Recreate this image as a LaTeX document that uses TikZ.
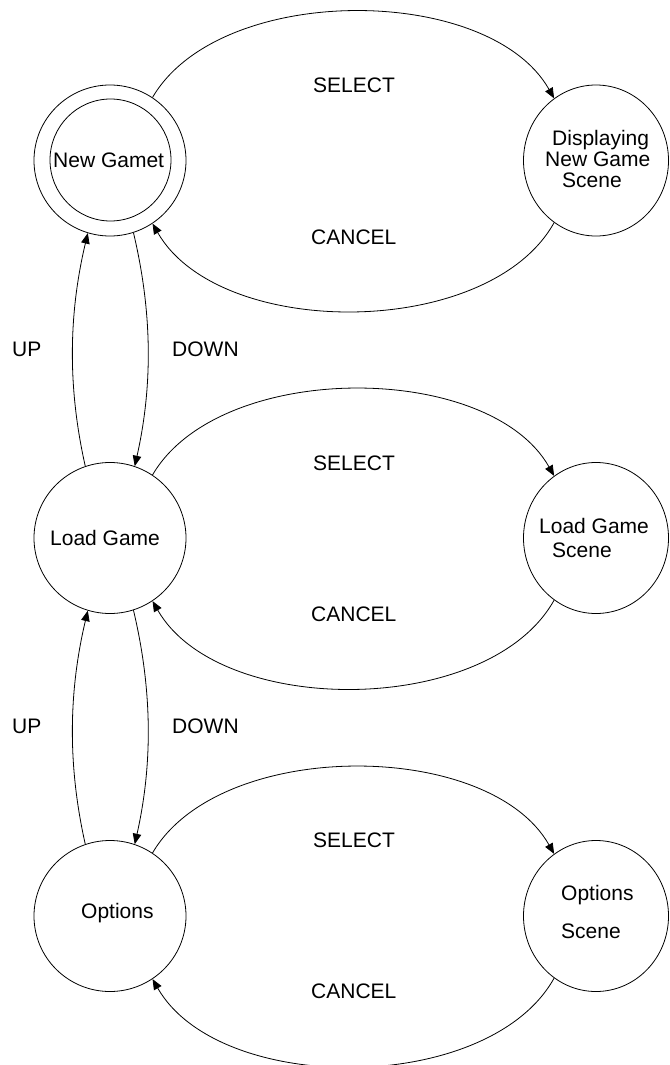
\documentclass[tikz,border=0pt]{standalone}
\usepackage{fontspec}
\setmainfont{Liberation Sans}
\usetikzlibrary{arrows.meta,shapes.geometric}
\begin{document}
\begin{tikzpicture}[x=1pt,y=-1pt,
  state/.style={draw, line width=0.8pt, ellipse, minimum width=152pt, minimum height=151pt, inner sep=0pt},
  scene/.style={state, minimum width=145pt},
  lbl/.style={anchor=base west, inner sep=0pt, font=\fontsize{21}{21}\selectfont},
  trans/.style={draw, line width=0.8pt, -{Triangle[length=10.5pt,width=8.5pt]}}]
\useasboundingbox (0,0) rectangle (669,1065);

% states
\node[state] (ng) at (110,160.5) {};
\node[state, minimum width=121pt, minimum height=122pt] (ngi) at (110.5,160) {};
\node[scene] (ds) at (596,160.5) {};
\node[state] (lg) at (110,538) {};
\node[scene] (ls) at (596,538) {};
\node[state] (op) at (110,916) {};
\node[scene] (os) at (596,916) {};

% state names
\node[lbl] (ngt) at (53,167.5) {New Gamet};
\node[lbl] (dst1) at (552,145) {Displaying};
\node[lbl] (dst2) at (545,166.5) {New Game};
\node[lbl] (dst3) at (562,187.5) {Scene};
\node[lbl] (lgt) at (50,545.5) {Load Game};
\node[lbl] (lst1) at (539,533) {Load Game};
\node[lbl] (lst2) at (552,557) {Scene};
\node[lbl] (opt) at (81,918) {Options};
\node[lbl] (ost1) at (561,900.5) {Options};
\node[lbl] (ost2) at (561,938) {Scene};

% select / cancel
\draw[trans] (ng.56) .. controls +(67,-115) and +(-65,-115) .. (ds.124);
\draw[trans] (ds.236) .. controls +(-65,117) and +(67,117) .. (ng.304);
\draw[trans] (lg.56) .. controls +(67,-115) and +(-65,-115) .. (ls.124);
\draw[trans] (ls.236) .. controls +(-65,117) and +(67,117) .. (lg.304);
\draw[trans] (op.56) .. controls +(67,-115) and +(-65,-115) .. (os.124);
\draw[trans] (os.236) .. controls +(-65,117) and +(67,117) .. (op.304);

% up / down
\draw[trans] (lg.109) .. controls +(-18,-80) and +(-19,80) .. (ng.253);
\draw[trans] (ng.288) .. controls +(19,80) and +(18,-80) .. (lg.71);
\draw[trans] (op.109) .. controls +(-18,-80) and +(-19,80) .. (lg.253);
\draw[trans] (lg.288) .. controls +(19,80) and +(18,-80) .. (op.71);

% transition labels
\node[lbl] (sel1) at (313,92.5) {SELECT};
\node[lbl] (can1) at (311,244) {CANCEL};
\node[lbl] (up1) at (12,356) {UP};
\node[lbl] (down1) at (172,356) {DOWN};
\node[lbl] (sel2) at (313,470) {SELECT};
\node[lbl] (can2) at (311,621.5) {CANCEL};
\node[lbl] (up2) at (12,733.5) {UP};
\node[lbl] (down2) at (172,733.5) {DOWN};
\node[lbl] (sel3) at (313,847) {SELECT};
\node[lbl] (can3) at (311,998) {CANCEL};
\end{tikzpicture}
\end{document}
